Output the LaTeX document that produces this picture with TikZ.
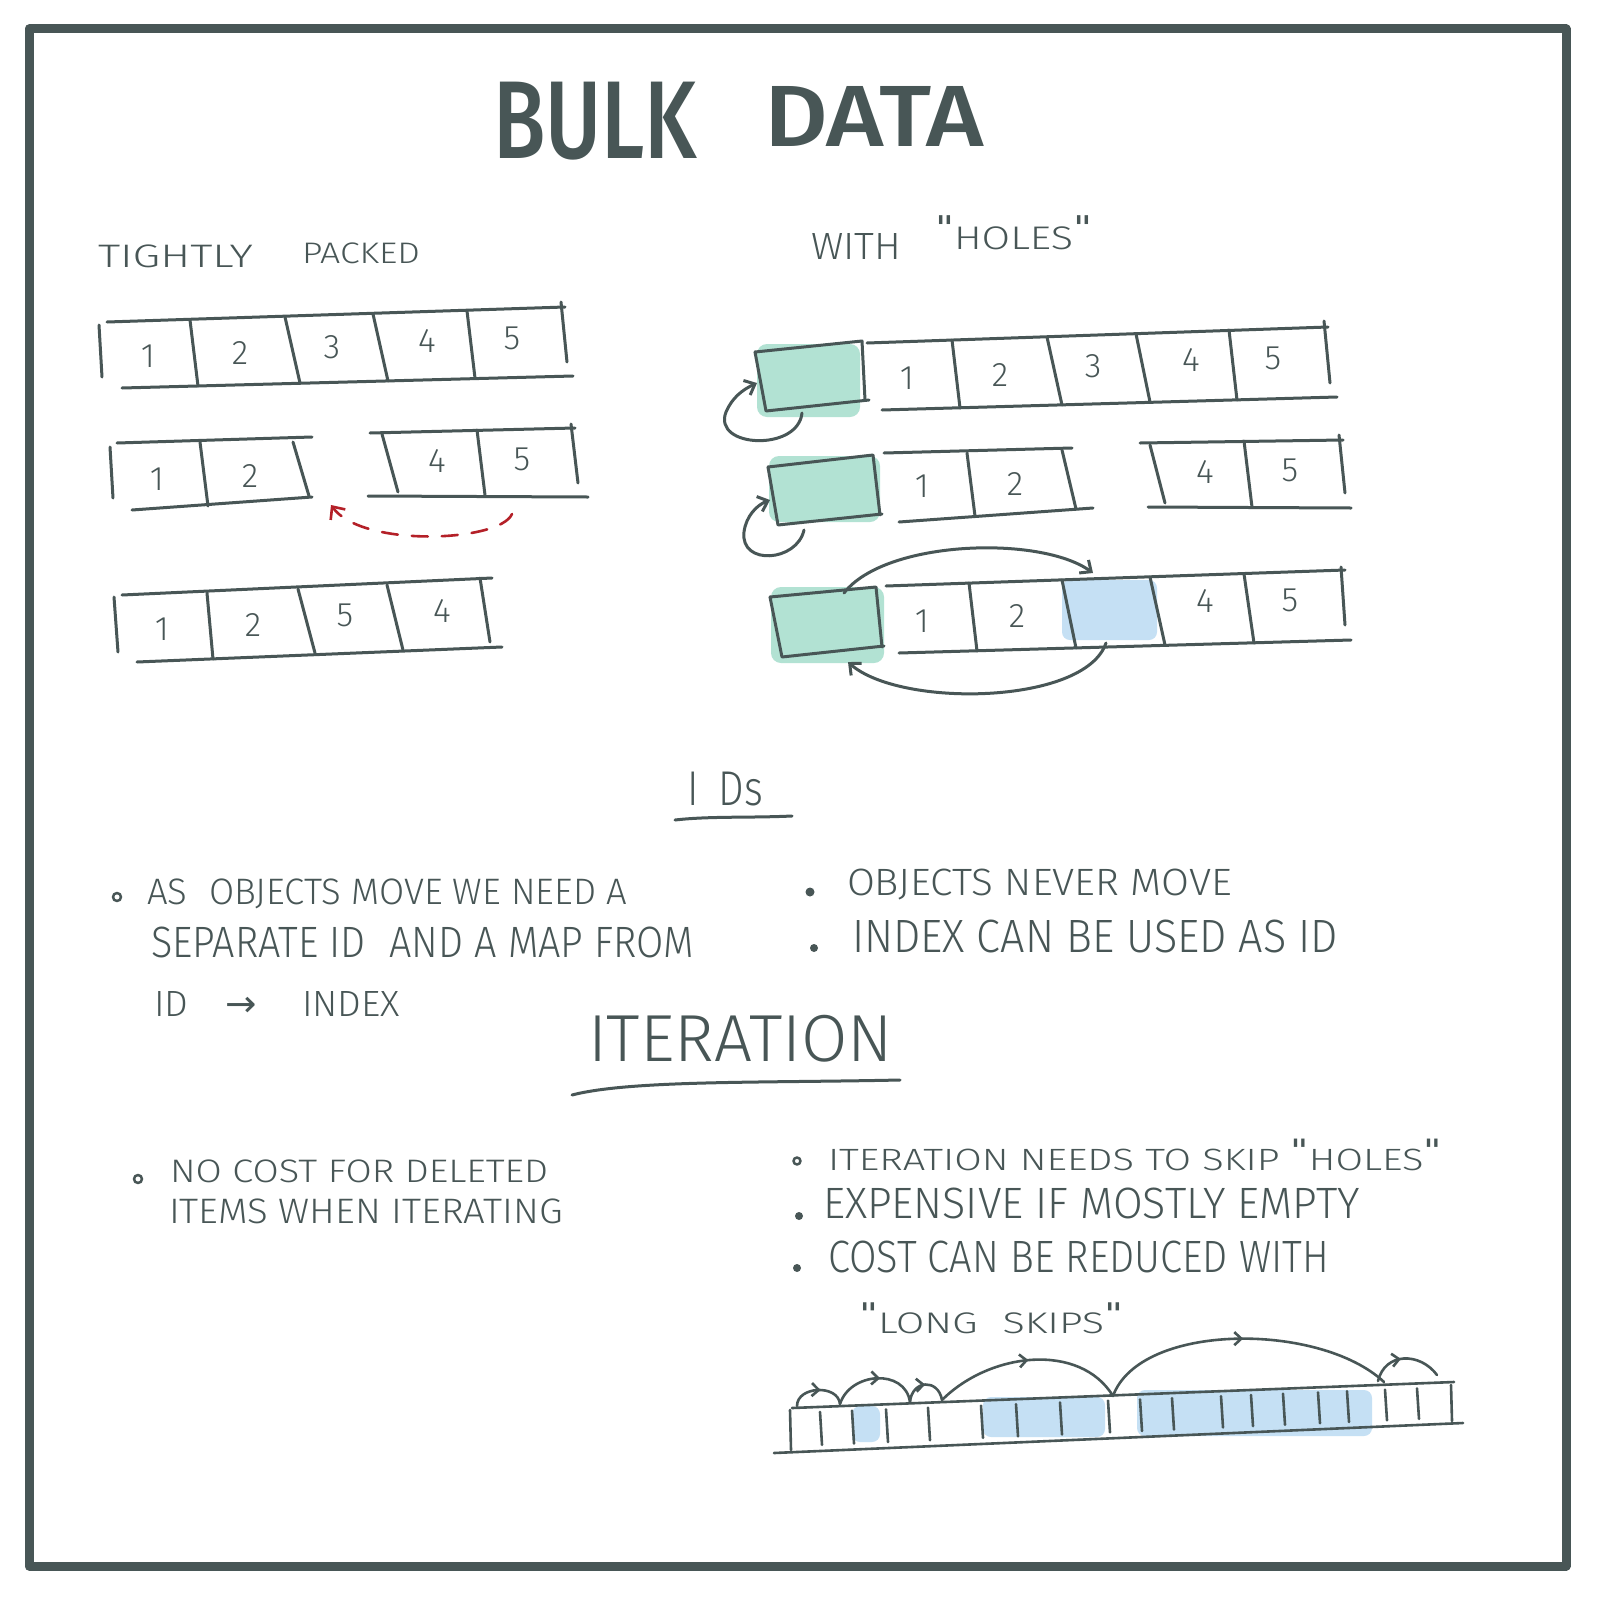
\documentclass[tikz,border=0pt]{standalone}
\usepackage{fontspec}
\setmainfont{Fira Sans}[UprightFont=* Light, BoldFont=* Medium]
\newfontfamily\symfont{DejaVu Sans}
\usetikzlibrary{arrows.meta,decorations.markings}
\definecolor{ink}{RGB}{72,86,86}
\definecolor{mint}{RGB}{178,226,211}
\definecolor{sky}{RGB}{197,224,244}
\definecolor{redink}{RGB}{180,32,40}
\newcommand\fitt[3]{\resizebox*{#1pt}{#2pt}{#3}}
\newcommand\qq{\raisebox{0.3em}{\symfont\char"0022}}
\begin{document}
\begin{tikzpicture}[x=1pt,y=-1pt,line cap=round,line join=round,
  sk/.style={draw=ink,line width=3pt},
  txt/.style={inner sep=0pt,outer sep=0pt,anchor=north west,text=ink},
  num/.style={inner sep=0pt,text=ink,font=\fontsize{34}{34}\selectfont},
  arr/.style={sk,-{Straight Barb[length=9pt,width=16pt]}},
  redarr/.style={draw=redink,line width=2.6pt,dash pattern=on 16pt off 14pt,-{Straight Barb[length=10pt,width=18pt]}},
  midarr/.style={sk,postaction={decorate},decoration={markings,mark=at position #1 with {\arrow{Straight Barb[length=7pt,width=13pt]}}}},
  holefill/.style={fill=mint,rounded corners=10pt},
  skyfill/.style={fill=sky,rounded corners=8pt},
  bul/.style={circle,inner sep=0pt,minimum size=8pt,draw=ink,line width=2.5pt},
  bulf/.style={circle,inner sep=0pt,minimum size=9pt,fill=ink}]
% background and bounding box
\fill[white] (0,0) rectangle (1600,1603);
\useasboundingbox (0,0) rectangle (1600,1603);
% frame
\draw[draw=ink,line width=9pt] (29,29) rectangle (1566,1566);

% ---------------- title ----------------
\node[txt] (tbulk) at (493,82) {\fitt{204}{78}{\bfseries BULK}};
\node[txt] (tdata) at (764,86) {\fitt{220}{60}{\bfseries DATA}};

% ---------------- tightly packed ----------------
\node[txt] (ttight) at (98,245) {\fitt{155}{23}{TIGHTLY}};
\node[txt] (tpack) at (302,243) {\fitt{118}{21}{PACKED}};

% row 1
\draw[sk] (107,322) -- (565,307);
\draw[sk] (122,388) -- (573,376);
\draw[sk] (99,325) -- (102,377);
\draw[sk] (190,320) -- (198,386);
\draw[sk] (285,317) -- (300,383);
\draw[sk] (373,314) -- (388,381);
\draw[sk] (467,311) -- (475,378);
\draw[sk] (561,302) -- (567,362);
\node[num] (pa1) at (148,356) {1};
\node[num] (pa2) at (240,353) {2};
\node[num] (pa3) at (332,347) {3};
\node[num] (pa4) at (427,341) {4};
\node[num] (pa5) at (512,338) {5};

% row 2
\draw[sk] (117,443) -- (312,437);
\draw[sk] (132,510) -- (312,497);
\draw[sk] (110,447) -- (113,498);
\draw[sk] (200,442) -- (208,506);
\draw[sk] (293,442) -- (309,496);
\draw[sk] (370,433) -- (575,428);
\draw[sk] (368,496) -- (588,497);
\draw[sk] (382,434) -- (398,492);
\draw[sk] (477,430) -- (485,495);
\draw[sk] (571,424) -- (578,483);
\node[num] (pb1) at (157,479) {1};
\node[num] (pb2) at (250,476) {2};
\node[num] (pb4) at (437,461) {4};
\node[num] (pb5) at (522,459) {5};
\coordinate (rs) at (512,514);
\coordinate (re) at (331,505);
\draw[redarr] (rs) .. controls (500,542) and (362,548) .. (re);

% row 3
\draw[sk] (122,595) -- (492,578);
\draw[sk] (137,662) -- (502,647);
\draw[sk] (114,597) -- (118,652);
\draw[sk] (207,593) -- (213,659);
\draw[sk] (298,589) -- (315,653);
\draw[sk] (387,585) -- (403,650);
\draw[sk] (480,578) -- (490,642);
\node[num] (pc1) at (162,629) {1};
\node[num] (pc2) at (253,625) {2};
\node[num] (pc5) at (345,615) {5};
\node[num] (pc4) at (442,611) {4};

% ---------------- with holes ----------------
\node[txt] (twith) at (811,233) {\fitt{90}{26}{WITH}};
\node[txt] (tholes) at (935,216) {\fitt{157}{34}{\qq HOLES\qq}};

% row 1
\fill[holefill] (757,344) rectangle (860,417);
\draw[sk] (755,352) -- (862,341) -- (865,400);
\draw[sk] (755,352) -- (766,411) -- (869,400);
\draw[sk] (867,343) -- (1328,327);
\draw[sk] (882,410) -- (1337,397);
\draw[sk] (952,340) -- (960,408);
\draw[sk] (1047,337) -- (1062,405);
\draw[sk] (1136,334) -- (1150,402);
\draw[sk] (1229,330) -- (1237,400);
\draw[sk] (1324,321) -- (1330,383);
\node[num] (ha1) at (907,378) {1};
\node[num] (ha2) at (1000,375) {2};
\node[num] (ha3) at (1093,366) {3};
\node[num] (ha4) at (1191,360) {4};
\node[num] (ha5) at (1273,358) {5};
\coordinate (la1) at (802,413);
\coordinate (la2) at (757,383);
\draw[arr] (la1) .. controls (798,452) and (712,448) .. (726,412) .. controls (732,398) and (742,390) .. (la2);

% row 2
\fill[holefill] (769,456) rectangle (880,522);
\draw[sk] (768,467) -- (873,455) -- (880,515);
\draw[sk] (768,467) -- (778,525) -- (882,514);
\draw[sk] (884,453) -- (1072,448);
\draw[sk] (899,522) -- (1093,508);
\draw[sk] (967,453) -- (975,516);
\draw[sk] (1062,450) -- (1076,509);
\draw[sk] (1140,443) -- (1343,440);
\draw[sk] (1148,507) -- (1351,508);
\draw[sk] (1150,445) -- (1165,503);
\draw[sk] (1244,441) -- (1252,507);
\draw[sk] (1339,435) -- (1345,493);
\node[num] (hb1) at (922,486) {1};
\node[num] (hb2) at (1015,484) {2};
\node[num] (hb4) at (1205,472) {4};
\node[num] (hb5) at (1290,470) {5};
\coordinate (lb1) at (804,530);
\coordinate (lb2) at (770,500);
\draw[arr] (lb1) .. controls (797,562) and (740,566) .. (744,532) .. controls (746,516) and (757,505) .. (lb2);

% row 3
\fill[holefill] (771,587) rectangle (884,663);
\fill[skyfill] (1062,580) rectangle (1157,640);
\draw[sk] (770,597) -- (876,587) -- (882,647);
\draw[sk] (770,597) -- (782,657) -- (884,646);
\draw[sk] (886,586) -- (1345,570);
\draw[sk] (899,653) -- (1351,640);
\draw[sk] (969,583) -- (977,651);
\draw[sk] (1062,580) -- (1076,648);
\draw[sk] (1150,577) -- (1165,645);
\draw[sk] (1244,574) -- (1254,643);
\draw[sk] (1341,567) -- (1345,625);
\node[num] (hc1) at (922,621) {1};
\node[num] (hc2) at (1017,616) {2};
\node[num] (hc4) at (1205,601) {4};
\node[num] (hc5) at (1290,600) {5};
\coordinate (mt1) at (844,593);
\coordinate (mt2) at (1093,573);
\draw[arr] (mt1) .. controls (885,540) and (1040,535) .. (mt2);
\coordinate (mb1) at (1106,643);
\coordinate (mb2) at (848,662);
\draw[arr] (mb1) .. controls (1085,705) and (900,708) .. (mb2);

% ---------------- IDs ----------------
\node[txt] (tids) at (687,772) {\fitt{76}{34}{I\hspace{0.5em}Ds}};
\draw[sk] (675,820) .. controls (710,816) and (750,818) .. (792,816);

\node[bul] (b1) at (117,897) {};
\node[txt] (id1) at (147,879) {\fitt{480}{30}{AS\hspace{0.6em}OBJECTS MOVE WE NEED A}};
\node[txt] (id2) at (151,927) {\fitt{543}{31}{SEPARATE ID\hspace{0.6em}AND A MAP FROM}};
\node[txt] (id3) at (154,991) {\fitt{246}{25}{ID\hspace{1em}{\symfont →}\hspace{1.2em}INDEX}};

\node[bulf] (b2) at (810,892) {};
\node[txt] (id4) at (847,869) {\fitt{385}{31}{OBJECTS NEVER MOVE}};
\node[bulf,minimum size=8pt] (b3) at (814,948) {};
\node[txt] (id5) at (852,920) {\fitt{486}{33}{INDEX CAN BE USED AS ID}};

% ---------------- ITERATION ----------------
\node[txt] (titer) at (588,1015) {\fitt{305}{47}{ITERATION}};
\draw[sk] (572,1095) .. controls (630,1080) and (760,1083) .. (900,1080);

\node[bul] (b4) at (138,1179) {};
\node[txt] (it1) at (170,1160) {\fitt{378}{23}{NO COST FOR DELETED}};
\node[txt] (it2) at (169,1199) {\fitt{394}{25}{ITEMS WHEN ITERATING}};

\node[bul,minimum size=7pt] (b5) at (797,1161) {};
\node[txt] (it3) at (828,1139) {\fitt{614}{32}{ITERATION NEEDS TO SKIP \qq HOLES\qq}};
\node[bulf,minimum size=8pt] (b6) at (799,1216) {};
\node[txt] (it4) at (823,1188) {\fitt{537}{31}{EXPENSIVE IF MOSTLY EMPTY}};
\node[bulf,minimum size=8pt] (b7) at (797,1268) {};
\node[txt] (it5) at (828,1241) {\fitt{501}{32}{COST CAN BE REDUCED WITH}};
\node[txt] (it6) at (859,1303) {\fitt{264}{31}{\qq LONG\hspace{0.6em}SKIPS\qq}};

% ---------------- long skips array ----------------
\fill[skyfill] (852,1406) rectangle (880,1442);
\fill[skyfill] (983,1397) rectangle (1105,1437);
\fill[skyfill] (1137,1390) rectangle (1372,1436);
\draw[sk,line width=2.6pt] (792,1408) -- (1454,1382);
\draw[sk,line width=2.6pt] (774,1453) -- (1463,1423);
\draw[sk,line width=2.6pt] (790,1410) -- (791,1450);
\draw[sk,line width=2.6pt] (1451,1385) -- (1452,1421);
\foreach \xa in {820,852,886,928,981,1016,1060,1108,1140,1172,1221,1251,1283,1318,1347,1385,1417}
  \draw[sk,line width=2.6pt] (\xa,{1408-0.03927*(\xa-792)+5}) -- ({\xa+2},{1453-0.04354*(\xa+2-774)-6});
\coordinate (s0) at (797,1406);
\coordinate (s1) at (840,1404);
\coordinate (s2) at (910,1402);
\coordinate (s3) at (942,1400);
\coordinate (s4) at (1113,1396);
\coordinate (s5) at (1384,1382);
\coordinate (s6) at (1378,1381);
\coordinate (s7) at (1437,1375);
\draw[midarr=0.55,line width=2.6pt] (s0) .. controls (797,1386) and (838,1384) .. (s1);
\draw[midarr=0.55,line width=2.6pt] (s1) .. controls (850,1372) and (905,1368) .. (s2);
\draw[midarr=0.5,line width=2.6pt] (s2) .. controls (912,1380) and (938,1378) .. (s3);
\draw[midarr=0.5,line width=2.6pt] (s3) .. controls (990,1352) and (1080,1342) .. (s4);
\draw[midarr=0.5,line width=2.6pt] (s4) .. controls (1140,1322) and (1320,1322) .. (s5);
\draw[midarr=0.45,line width=2.6pt] (s6) .. controls (1385,1352) and (1420,1352) .. (s7);
\end{tikzpicture}
\end{document}
